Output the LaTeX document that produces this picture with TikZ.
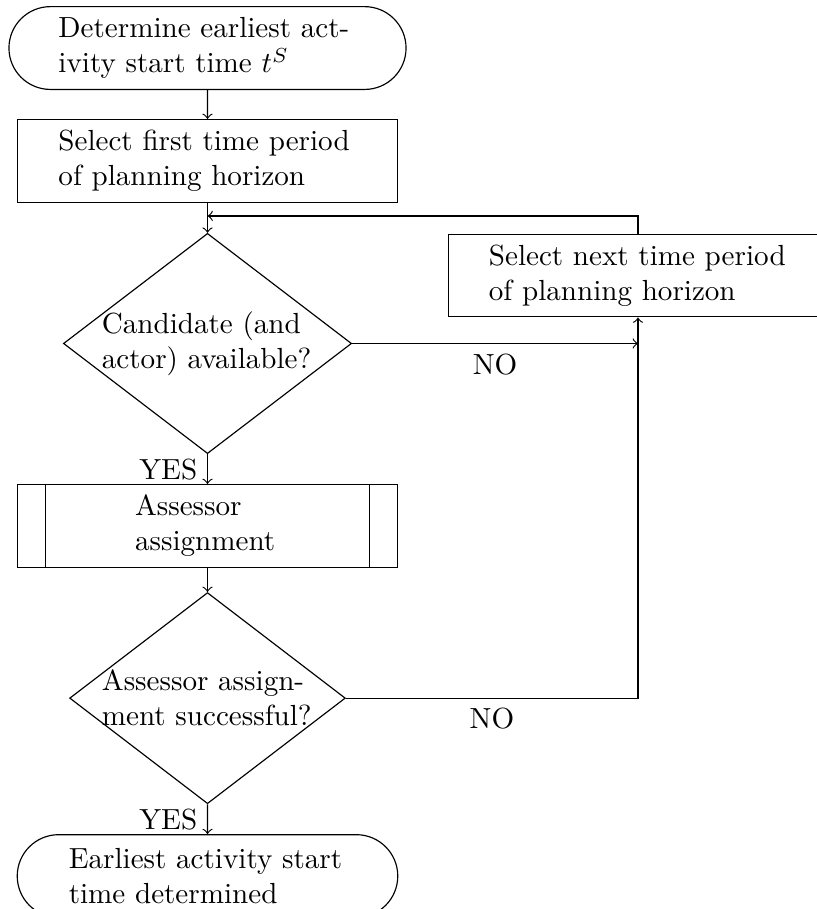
\documentclass[tikz,border=0pt]{standalone}
\usetikzlibrary{positioning,shapes.geometric,shapes.misc}
\tikzset{
    block/.style={draw, rectangle, text width=3.6cm, align=left, minimum width=4.58cm,
        minimum height=1cm},
    term/.style={block, rounded rectangle},
    stepbox/.style={block},
    process/.style={block, text width=1.75cm,
        path picture={
            \draw ([xshift=0.33cm]path picture bounding box.north west)
                -- ([xshift=0.33cm]path picture bounding box.south west);
            \draw ([xshift=-0.33cm]path picture bounding box.north east)
                -- ([xshift=-0.33cm]path picture bounding box.south east);
        }},
    decision/.style={draw, diamond, aspect=1.31, text width=2.55cm, align=left,
        inner sep=-0.3cm},
}
\begin{document}
\begin{tikzpicture}[node distance=0.36cm]
    \useasboundingbox (0,0) rectangle (9.867,-10.978);
    %% Main column
    \node[term, minimum width=5.03cm] (start) at (2.506,-0.58)
        {Determine earliest act\-ivity start time $t^S$};
    \node[stepbox, below=0.35cm of start] (first)
        {Select first time period of planning horizon};
    \node[decision, below=of first, minimum width=3.48cm, minimum height=2.66cm] (avail)
        {Candidate (and actor) available?};
    \node[process, below=of avail] (assign) {Assessor assignment};
    \node[decision, below=0.29cm of assign, minimum width=3.33cm, minimum height=2.55cm] (success)
        {Assessor assign\-ment successful?};
    \node[term, text width=3.35cm, minimum width=4.83cm, below=of success] (done)
        {Earliest activity start time determined};
    %% Loop back
    \node[stepbox] (next) at (7.705,-3.327)
        {Select next time period of planning horizon};
    \coordinate[below=0.157cm of first] (join);
    %% Connectors
    \draw[->] (start) -- (first);
    \draw[->] (first) -- (avail);
        \draw[->] (next.north) |- (join);
    \draw[->] (avail) -- node[left] {YES} (assign);
        \draw[->] (avail.east) -- (avail.east -| next.south) node[midway, below] {NO};
    \draw[->] (assign) -- (success);
    \draw[->] (success) -- node[left] {YES} (done);
        \draw[->] (success.east) -| node[pos=0.25, below] {NO} (next.south);
\end{tikzpicture}
\end{document}
